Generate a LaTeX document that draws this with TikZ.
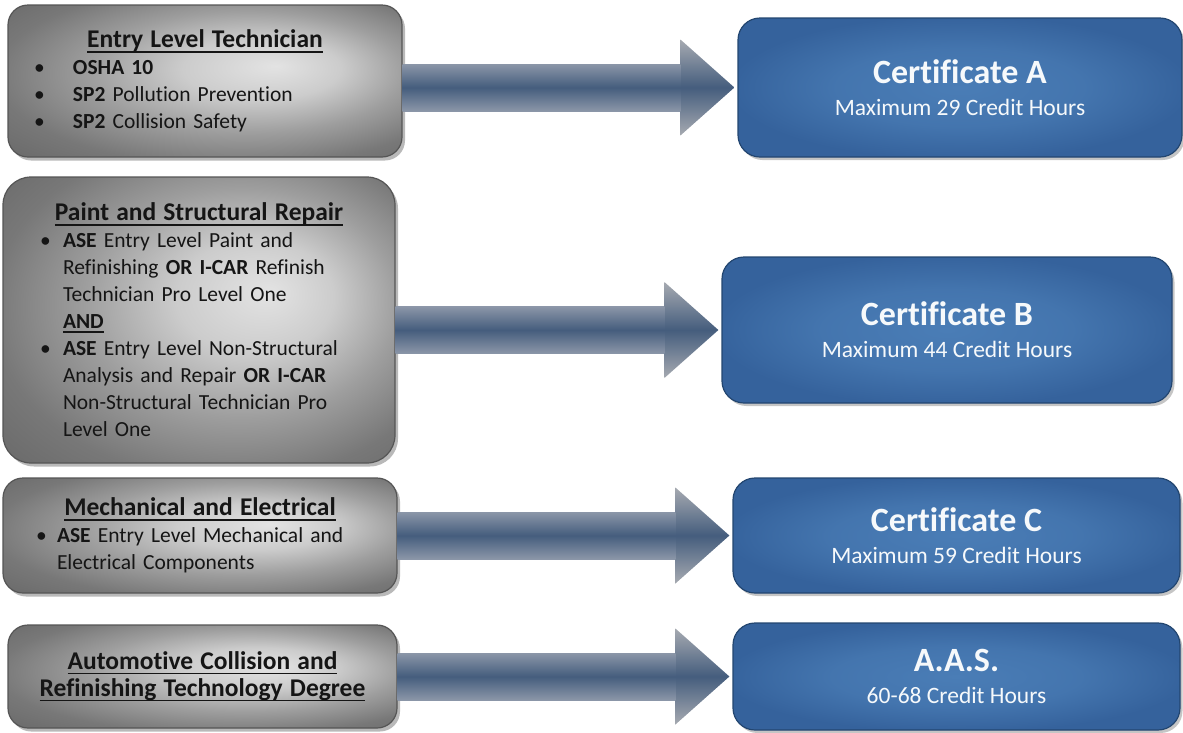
\documentclass[tikz,border=0pt]{standalone}
\usepackage{fontspec}
\setmainfont{Carlito}[Ligatures=NoCommon]
\usetikzlibrary{calc,shadows}

\definecolor{shaftedge}{HTML}{8B96A8}
\definecolor{shaftmid}{HTML}{455D7D}
\definecolor{headedge}{HTML}{A6AAB1}
\definecolor{blueinner}{HTML}{4A7DB6}
\definecolor{blueouter}{HTML}{35629C}
\definecolor{blueline}{HTML}{234670}
\definecolor{silverline}{HTML}{555555}
\definecolor{inktext}{HTML}{151515}

\pgfdeclareradialshading{silver}{\pgfpoint{9bp}{5bp}}{color(0bp)=(black!11); color(10bp)=(black!20); color(20bp)=(black!38); color(30bp)=(black!53); color(40bp)=(black!60); color(50bp)=(black!62)}
\pgfdeclareradialshading{bluebox}{\pgfpoint{0bp}{0bp}}{color(0bp)=(blueinner); color(14bp)=(blueinner!70!blueouter); color(26bp)=(blueouter); color(50bp)=(blueouter)}

% underlined text, one line
\newcommand{\ulin}[2]{\leavevmode\setbox0\hbox{#2}\rlap{\rule[-#1]{\wd0}{1.7pt}}\box0}
\newcommand{\hdr}[1]{{\fontsize{25.5}{29}\selectfont\bfseries\ulin{5pt}{#1}}}
\newcommand{\bitem}[2]{\par\hangindent=#1\hangafter=1\noindent\makebox[#1][l]{\textbullet}#2}

\tikzset{skillbox/.style={rectangle, rounded corners=20pt, draw=silverline, line width=1.2pt,
    shade, shading=silver, text=inktext, align=left, font=\fontsize{21.5}{27}\selectfont,
    drop shadow={shadow xshift=3pt, shadow yshift=-3.5pt, fill=black!50, opacity=.55}}}
\tikzset{certbox/.style={rectangle, rounded corners=22pt, draw=blueline, line width=1.2pt,
    shade, shading=bluebox, text=white!95!blueinner, align=center, font=\fontsize{23.5}{32}\selectfont,
    drop shadow={shadow xshift=2.5pt, shadow yshift=-3pt, fill=black!45, opacity=.5}}}
\tikzset{shaftshade/.style={top color=shaftedge, bottom color=shaftedge, middle color=shaftmid}}
\tikzset{headshade/.style={top color=headedge, bottom color=headedge, middle color=shaftmid}}

% fat arrow from a left box to the centre of a right box
\newcommand{\bigarrow}[2]{%
  \shade[headshade] let \p1=(#1.east), \p2=(#2.west) in
    (\x2-57pt,\y2+48pt) -- (\x2-3pt,\y2) -- (\x2-57pt,\y2-48pt) -- cycle;
  \shade[shaftshade] let \p1=(#1.east), \p2=(#2.west) in
    (\x1,\y2+23.5pt) rectangle (\x2-57pt,\y2-23.5pt);}

\begin{document}
\begin{tikzpicture}[x=1pt, y=-1pt]
\useasboundingbox (0,0) rectangle (1183,732);

% left column
\node[skillbox, minimum width=394pt, minimum height=152pt, inner xsep=26pt, text width=342pt] (entry) at (205,81) {%
  {\centering\hdr{Entry Level Technician}\par}
  \bitem{39pt}{\textbf{OSHA 10}}
  \bitem{39pt}{\textbf{SP2} Pollution Prevention}
  \bitem{39pt}{\textbf{SP2} Collision Safety}\par};

\node[skillbox, rounded corners=28pt, minimum width=392pt, minimum height=286pt, inner xsep=37pt, text width=318pt] (paint) at (199,320) {%
  {\centering\hdr{Paint and Structural Repair}\par}
  \bitem{23pt}{\textbf{ASE} Entry Level Paint and\newline Refinishing \textbf{OR I-CAR} Refinish\newline Technician Pro Level One}
  \par\noindent\hspace*{23pt}\textbf{\ulin{4pt}{AND}}
  \bitem{23pt}{\textbf{ASE} Entry Level Non-Structural\newline Analysis and Repair \textbf{OR I-CAR}\newline Non-Structural Technician Pro\newline Level One}\par};

\node[skillbox, minimum width=394pt, minimum height=115pt, inner xsep=33pt, text width=328pt] (mech) at (200,535.5) {%
  {\centering\hdr{Mechanical and Electrical}\par}
  \bitem{21pt}{\textbf{ASE} Entry Level Mechanical and\newline Electrical Components}\par};

\node[skillbox, minimum width=389pt, minimum height=103pt, inner xsep=20pt, text width=349pt] (degree) at (202.5,676.5) {%
  {\centering\hdr{Automotive Collision and}\par\hdr{Refinishing Technology Degree}\par}};

% right column
\node[certbox, minimum width=444pt, minimum height=139pt] (certa) at (960,87.5)
  {{\fontsize{34}{32}\selectfont\bfseries Certificate A}\\Maximum 29 Credit Hours};
\node[certbox, minimum width=450pt, minimum height=146pt] (certb) at (947,330)
  {{\fontsize{34}{32}\selectfont\bfseries Certificate B}\\Maximum 44 Credit Hours};
\node[certbox, minimum width=447pt, minimum height=115pt] (certc) at (956.5,535.5)
  {{\fontsize{34}{32}\selectfont\bfseries Certificate C}\\Maximum 59 Credit Hours};
\node[certbox, minimum width=447pt, minimum height=107pt] (aas) at (956.5,676.5)
  {{\fontsize{34}{32}\selectfont\bfseries A.A.S.}\\60-68 Credit Hours};

\bigarrow{entry}{certa}
\bigarrow{paint}{certb}
\bigarrow{mech}{certc}
\bigarrow{degree}{aas}

\end{tikzpicture}
\end{document}
